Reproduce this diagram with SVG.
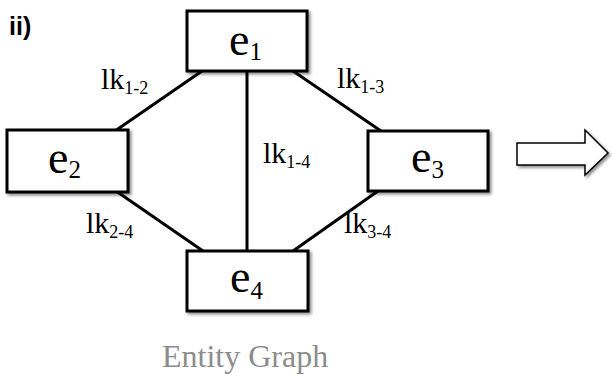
<svg xmlns="http://www.w3.org/2000/svg" width="613" height="385" viewBox="0 0 613 385">
<defs>
<filter id="sh" x="-10%" y="-10%" width="130%" height="140%">
<feDropShadow dx="2" dy="2" stdDeviation="1.5" flood-color="#000" flood-opacity="0.45"/>
</filter>
<style>
.box{fill:#fff;stroke:#000;stroke-width:3;filter:url(#sh)}
.edge{stroke:#000;stroke-width:3;fill:none}
.ent{font-size:46px}
.sub{font-size:25px}
.lbl{font-size:30px}
.lsub{font-size:18px}
</style>
</defs>
<rect width="613" height="385" fill="#fff"/>
<text x="9" y="35" style="font-family:'Liberation Sans';font-weight:bold;font-size:25px">ii)</text>
<g id="connectors">
<line class="edge" x1="202" y1="71" x2="115" y2="131"/>
<line class="edge" x1="293" y1="71" x2="381" y2="131"/>
<line class="edge" x1="247" y1="71" x2="247" y2="251"/>
<line class="edge" x1="116" y1="191" x2="203" y2="251"/>
<line class="edge" x1="378" y1="191" x2="293" y2="251"/>
<text class="lbl" style="font-family:'Liberation Serif';font-style:normal" x="101" y="89">lk<tspan class="lsub" dy="5">1-2</tspan></text>
<text class="lbl" style="font-family:'Liberation Serif';font-style:normal" x="337" y="88">lk<tspan class="lsub" dy="5">1-3</tspan></text>
<text class="lbl" style="font-family:'Liberation Serif';font-style:normal" x="263" y="163">lk<tspan class="lsub" dy="5">1-4</tspan></text>
<text class="lbl" style="font-family:'Liberation Serif';font-style:normal" x="86" y="233">lk<tspan class="lsub" dy="5">2-4</tspan></text>
<text class="lbl" style="font-family:'Liberation Serif';font-style:normal" x="344" y="233">lk<tspan class="lsub" dy="5">3-4</tspan></text>
</g>
<g id="e1">
<rect class="box" x="187" y="11" width="120" height="60"/>
<text class="ent" style="font-family:'Liberation Serif';font-style:normal" x="229" y="55">e<tspan class="sub" dy="5">1</tspan></text>
</g>
<g id="e2">
<rect class="box" x="7" y="130" width="121" height="62"/>
<text class="ent" style="font-family:'Liberation Serif';font-style:normal" x="48" y="173">e<tspan class="sub" dy="5">2</tspan></text>
</g>
<g id="e3">
<rect class="box" x="368" y="131" width="120" height="60"/>
<text class="ent" style="font-family:'Liberation Serif';font-style:normal" x="411" y="172">e<tspan class="sub" dy="6">3</tspan></text>
</g>
<g id="e4">
<rect class="box" x="187" y="251" width="121" height="60"/>
<text class="ent" style="font-family:'Liberation Serif';font-style:normal" x="230" y="292">e<tspan class="sub" dy="7">4</tspan></text>
</g>
<g id="arrow">
<polygon points="517,143 585,143 585,130 608,153 585,175 585,165 517,165" fill="#fff" stroke="#000" stroke-width="1.5" filter="url(#sh)"/>
</g>
<text style="font-family:'Liberation Serif';font-style:normal;font-size:32px" x="162" y="367" fill="#8c8c8c">Entity Graph</text>
</svg>
